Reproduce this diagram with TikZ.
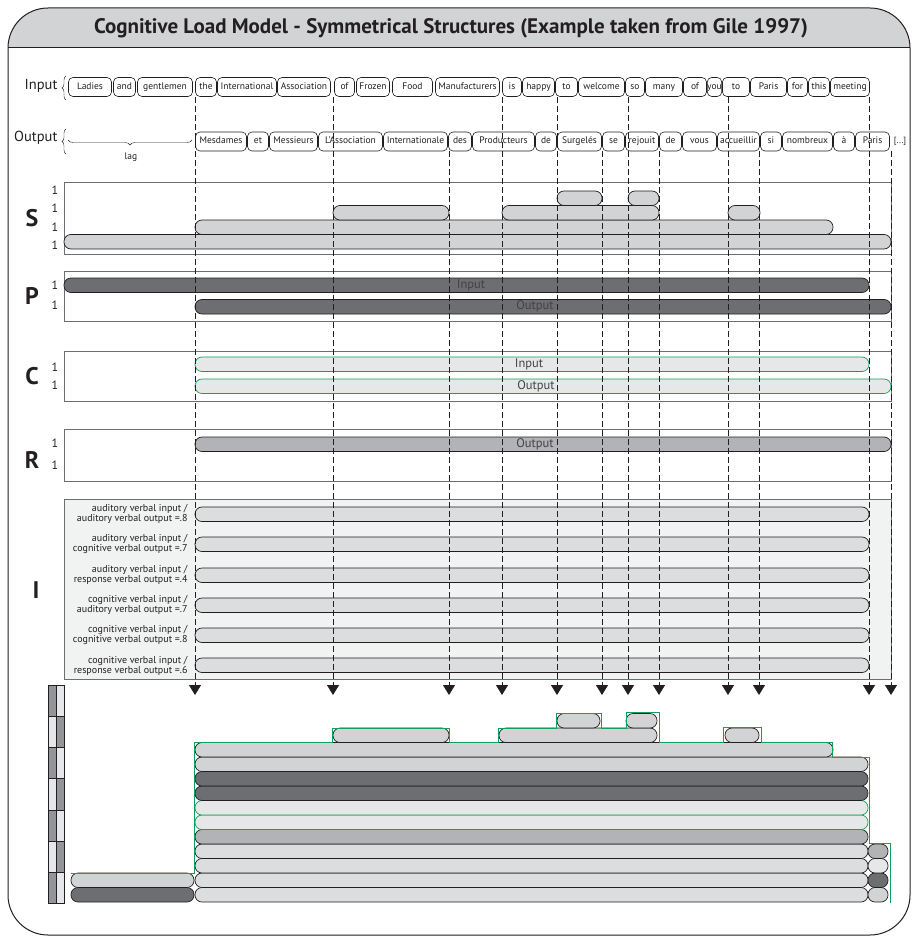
\documentclass[tikz,border=0pt]{standalone}
\usepackage{fontspec}
\setmainfont{PT Sans}
\usetikzlibrary{arrows.meta,decorations.pathreplacing}

\definecolor{barlight}{HTML}{D1D3D4}
\definecolor{bardark}{HTML}{6D6E71}
\definecolor{barmid}{HTML}{B1B3B6}
\definecolor{barpale}{HTML}{E6E7E8}
\definecolor{barint}{HTML}{DCDDDE}
\definecolor{panelbg}{HTML}{F1F2F2}
\definecolor{legdark}{HTML}{939598}
\definecolor{greenline}{HTML}{13A058}
\definecolor{ink}{HTML}{231F20}

% one rounded bar: [style]{x start}{x end}{y top}
\newcommand{\barpill}[4][]{\draw[bar,#1] (#2,#4) rectangle (#3,#4+14.5);}

\begin{document}
\begin{tikzpicture}[x=1pt,y=-1pt,
    word/.style={draw=ink, line width=0.6pt, rounded corners=4.5pt, inner sep=0pt,
        minimum height=19pt, text height=7pt, text depth=2pt, text=ink,
        font=\fontsize{9.5}{10}\selectfont},
    rowlabel/.style={anchor=east, font=\fontsize{14.5}{15}\selectfont, text=ink},
    panel/.style={draw=bardark, line width=0.8pt},
    bar/.style={draw=ink, line width=0.7pt, rounded corners=7pt, fill=barlight},
    cbar/.style={bar, draw=greenline, fill=barpale},
    one/.style={font=\fontsize{12}{12}\selectfont, text=ink},
    bigletter/.style={font=\bfseries\fontsize{24}{24}\selectfont, text=ink},
    barlabel/.style={font=\fontsize{12.5}{13}\selectfont, text=ink!85},
    ilabel/.style={font=\fontsize{10}{10}\selectfont, align=right, anchor=east, text=ink},
    guide/.style={dash pattern=on 6pt off 3pt, line width=1pt, draw=ink,
        -{Triangle[width=12pt,length=10pt]}}]
    \useasboundingbox (0,0) rectangle (914,936);

    % Frame and title band
    \begin{scope}
        \clip[rounded corners=40pt] (8,8) rectangle (910,935);
        \fill[barlight] (8,8) rectangle (910,47);
    \end{scope}
    \draw[ink, line width=0.8pt] (8,47) -- (910,47);
    \draw[ink, line width=1pt, rounded corners=40pt] (8,8) rectangle (910,935);
    \node[font=\bfseries\fontsize{21}{21}\selectfont, text=ink] (title) at (451,28)
    {Cognitive Load Model - Symmetrical Structures (Example taken from Gile 1997)};

    % Input words
    \node[rowlabel] (inlabel) at (61,86) {Input};
    \draw[decorate, decoration={brace, amplitude=4pt}, ink] (66,100) -- (66,76);
    \foreach \a/\b/\w [count=\i] in {68/112/Ladies, 113/136/and, 137/193/gentlemen,
        195/217/the, 217/277/International, 277/331/Association, 334/355/of,
        356/390/Frozen, 392/433/Food, 435/500/Manufacturers, 502/522/is,
        522/555/happy, 555/578/to, 578/625/welcome, 625/645/so, 645/683/many,
        683/707/of, 707/722/you, 722/750/to, 750/787/Paris, 787/808/for,
        808/830/this, 830/870/meeting}{
        \pgfmathsetmacro{\boxw}{\b-\a-1}
        \node[word, minimum width=\boxw pt] (in\i) at ({(\a+\b)/2},87) {\w};
    }

    % Output words
    \node[rowlabel] (outlabel) at (61,138) {Output};
    \draw[decorate, decoration={brace, amplitude=4pt}, ink] (66,154) -- (66,129);
    \foreach \a/\b/\w [count=\i] in {195/247/Mesdames, 247/269/et, 269/318/Messieurs,
        318/383/L’Association, 383/448/Internationale, 448/472/des,
        472/535/Producteurs, 535/557/de, 557/602/Surgelés, 602/625/se,
        625/659/rejouit, 659/682/de, 682/717/vous, 717/760/accueillir,
        760/782/si, 782/833/nombreux, 833/855/à, 855/890/Paris}{
        \pgfmathsetmacro{\boxw}{\b-\a-1}
        \node[word, minimum width=\boxw pt] (out\i) at ({(\a+\b)/2},141.5) {\w};
    }
    \node[font=\fontsize{9}{10}\selectfont, text=ink] (etc) at (900,141.5) {[...]};

    % Lag
    \draw[decorate, decoration={brace, amplitude=5pt, mirror}, ink] (68,140) -- (192,140);
    \node[font=\fontsize{9.5}{10}\selectfont, text=ink] (lag) at (131,157) {lag};

    % Panels
    \draw[panel] (64,182) rectangle (891,254);
    \draw[panel] (64,271) rectangle (891,321);
    \draw[panel] (64,351) rectangle (891,401);
    \draw[panel] (64,429) rectangle (891,481);
    \draw[panel, fill=panelbg] (64,499) rectangle (891,679);

    % Panel letters and counts
    \node[bigletter] (S) at (32,218) {S};
    \node[bigletter] (P) at (32,296) {P};
    \node[bigletter] (C) at (32,376) {C};
    \node[bigletter] (R) at (32,460) {R};
    \node[bigletter] (I) at (36,590) {I};
    \foreach \y [count=\i] in {190,208,227,245,285,305,367,385,443,465}
        \node[one] (one\i) at (55,\y) {1};

    % S bars
    \barpill{64}{891}{234.5}
    \barpill{195}{833}{220}
    \barpill{333}{449}{205.5}
    \barpill{502}{659}{205.5}
    \barpill{728}{760}{205.5}
    \barpill{557}{602}{191}
    \barpill{628}{659}{191}

    % P bars
    \barpill[fill=bardark]{64}{869}{278}
    \barpill[fill=bardark]{195}{891}{299.5}
    \node[barlabel] (pin) at (471,285) {Input};
    \node[barlabel] (pout) at (535,306.5) {Output};

    % C bars
    \barpill[cbar]{195}{869}{357}
    \barpill[cbar]{195}{891}{379}
    \node[barlabel] (cin) at (529,364) {Input};
    \node[barlabel] (cout) at (536,386) {Output};

    % R bar
    \barpill[fill=barmid]{195}{891}{437}
    \node[barlabel] (rout) at (535,444) {Output};

    % I bars
    \foreach \y in {507,537,568,598,628,658}{
        \barpill[fill=barint]{195}{869}{\y}
    }
    \node[ilabel] (i1) at (191,514) {auditory verbal input /\\auditory verbal output =.8};
    \node[ilabel] (i2) at (191,544) {auditory verbal input /\\cognitive verbal output =.7};
    \node[ilabel] (i3) at (191,575) {auditory verbal input /\\response verbal output =.4};
    \node[ilabel] (i4) at (191,605) {cognitive verbal input /\\auditory verbal output =.7};
    \node[ilabel] (i5) at (191,635) {cognitive verbal input /\\cognitive verbal output =.8};
    \node[ilabel] (i6) at (191,666) {cognitive verbal input /\\response verbal output =.6};

    % Segment guides
    \foreach \x/\t [count=\i] in {195/97, 333/97, 449/151, 502/97, 557/97, 602/151,
        628/97, 659/151, 728/97, 759/151, 869/97, 891/151}{
        \coordinate (top\i) at (\x,\t);
        \coordinate (tip\i) at (\x,695);
        \draw[guide] (top\i) -- (tip\i);
    }

    % Stacked load
    \barpill[fill=bardark]{71}{194}{887.5}
    \barpill{71}{194}{873}
    \foreach \y in {887.5,873,858.5,844}{
        \barpill[fill=barint]{195}{868}{\y}
    }
    \barpill[fill=barmid]{195}{868}{829.5}
    \barpill[cbar]{195}{868}{815}
    \barpill[cbar]{195}{868}{800.5}
    \barpill[fill=bardark]{195}{868}{786}
    \barpill[fill=bardark]{195}{868}{771.5}
    \barpill{195}{868}{757}
    \barpill{195}{833}{742.5}
    \barpill{333}{449}{728}
    \barpill{499}{657}{728}
    \barpill{725}{759}{728}
    \barpill{557}{600}{713.5}
    \barpill{626}{657}{713.5}
    \barpill{868}{888}{887.5}
    \barpill[fill=bardark]{868}{888}{873}
    \barpill[fill=barpale]{868}{888}{858.5}
    \barpill[fill=barmid]{868}{888}{844}
    \draw[greenline, line width=1pt] (71,873) -- (194,873) -- (194,742) -- (332,742)
        -- (332,728) -- (449,728) -- (449,742) -- (498,742) -- (498,728) -- (556,728)
        -- (556,713) -- (601,713) -- (601,728) -- (626,728) -- (626,712) -- (659,712)
        -- (659,742) -- (723,742) -- (723,727) -- (761,727) -- (761,742) -- (832,742)
        -- (832,757) -- (869,757) -- (869,843) -- (890,843) -- (890,903);

    % Legend column
    \foreach \i in {0,...,6}{
        \pgfmathsetmacro{\ya}{685+31.2*\i}
        \pgfmathsetmacro{\yb}{685+31.2*(\i+1)}
        \ifodd\i
            \draw[ink, line width=0.5pt, fill=barpale] (48,\ya) rectangle (56,\yb);
            \draw[ink, line width=0.5pt, fill=legdark] (56,\ya) rectangle (64,\yb);
        \else
            \draw[ink, line width=0.5pt, fill=legdark] (48,\ya) rectangle (56,\yb);
            \draw[ink, line width=0.5pt, fill=barpale] (56,\ya) rectangle (64,\yb);
        \fi
    }
\end{tikzpicture}
\end{document}
